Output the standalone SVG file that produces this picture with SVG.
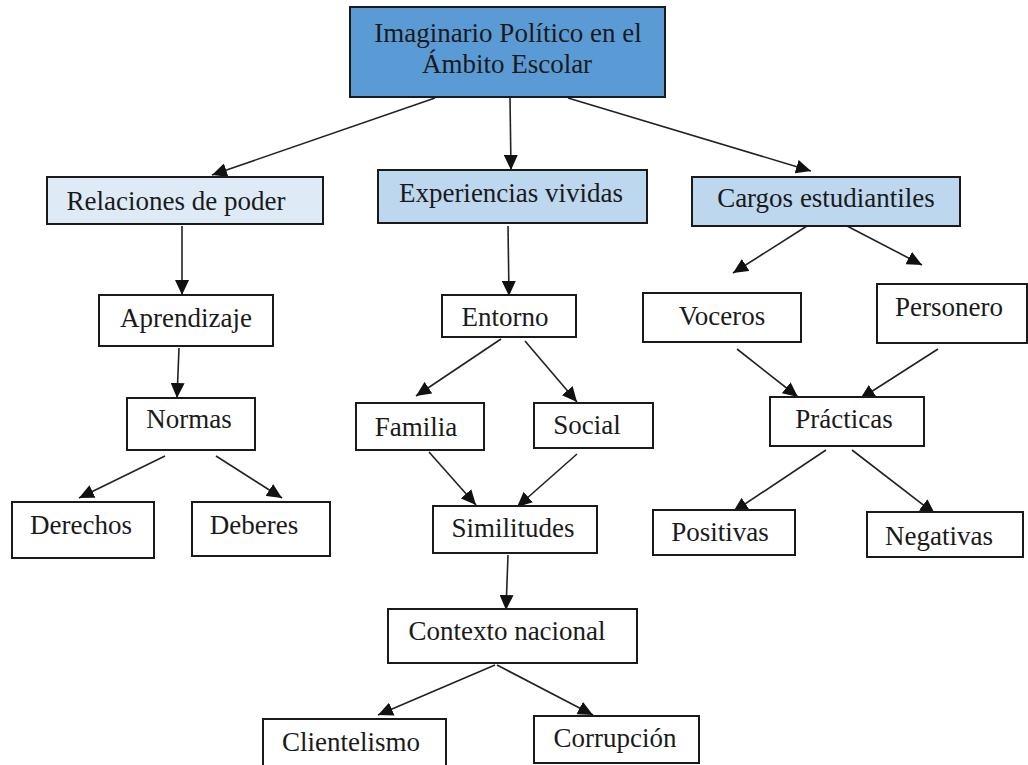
<svg xmlns="http://www.w3.org/2000/svg" width="1028" height="765" viewBox="0 0 1028 765">
<style>
  .box { fill: #ffffff; stroke: #1a1a1a; stroke-width: 2; }
  .top { fill: #5B9BD5; }
  .l1 { fill: #DEEBF7; }
  .l2 { fill: #BDD7EE; }
  text { font-family: "Liberation Serif", "Times New Roman", serif; font-size: 27px; fill: #1a1a1a; text-anchor: middle; }
  .conn line { stroke: #222; stroke-width: 1.6; marker-end: url(#arr); }
</style>
<defs>
  <marker id="arr" markerUnits="userSpaceOnUse" markerWidth="16" markerHeight="14" refX="15" refY="7" orient="auto">
    <path d="M0,0 L15,7 L0,14 z" fill="#111"/>
  </marker>
</defs>
<rect width="1028" height="765" fill="#ffffff"/>

<g id="connectors" class="conn">
  <line x1="435" y1="98" x2="212" y2="175"/>
  <line x1="510" y1="98" x2="511" y2="170"/>
  <line x1="568" y1="98" x2="811" y2="171"/>
  <line x1="182" y1="226" x2="182" y2="295"/>
  <line x1="179" y1="348" x2="177" y2="398"/>
  <line x1="165" y1="456" x2="79" y2="498"/>
  <line x1="216" y1="456" x2="282" y2="498"/>
  <line x1="508" y1="226" x2="509" y2="296"/>
  <line x1="501" y1="339" x2="416" y2="396"/>
  <line x1="525" y1="341" x2="577" y2="402"/>
  <line x1="429" y1="452" x2="476" y2="505"/>
  <line x1="577" y1="454" x2="517" y2="507"/>
  <line x1="508" y1="555" x2="506" y2="610"/>
  <line x1="495" y1="665" x2="378" y2="715"/>
  <line x1="497" y1="665" x2="593" y2="715"/>
  <line x1="807" y1="226" x2="733" y2="273"/>
  <line x1="847" y1="226" x2="922" y2="265"/>
  <line x1="737" y1="349" x2="798" y2="397"/>
  <line x1="938" y1="349" x2="860" y2="399"/>
  <line x1="826" y1="450" x2="733" y2="512"/>
  <line x1="852" y1="450" x2="935" y2="514"/>
</g>

<g id="n-imaginario">
  <rect class="box top" x="350" y="7" width="315" height="90"/>
  <text x="508" y="42">Imaginario Político en el</text>
  <text x="507" y="73">Ámbito Escolar</text>
</g>
<g id="n-relaciones">
  <rect class="box l1" x="47" y="177" width="276" height="47"/>
  <text x="176" y="210">Relaciones de poder</text>
</g>
<g id="n-experiencias">
  <rect class="box l2" x="378" y="170" width="269" height="53"/>
  <text x="511" y="202">Experiencias vividas</text>
</g>
<g id="n-cargos">
  <rect class="box l2" x="692" y="177" width="268" height="49"/>
  <text x="826" y="207">Cargos estudiantiles</text>
</g>
<g id="n-aprendizaje">
  <rect class="box" x="99" y="295" width="174" height="51"/>
  <text x="186" y="327">Aprendizaje</text>
</g>
<g id="n-normas">
  <rect class="box" x="127" y="398" width="128" height="52"/>
  <text x="189" y="428">Normas</text>
</g>
<g id="n-derechos">
  <rect class="box" x="12" y="502" width="142" height="56"/>
  <text x="81" y="534">Derechos</text>
</g>
<g id="n-deberes">
  <rect class="box" x="192" y="502" width="138" height="54"/>
  <text x="254" y="534">Deberes</text>
</g>
<g id="n-entorno">
  <rect class="box" x="442" y="295" width="134" height="42"/>
  <text x="505" y="326">Entorno</text>
</g>
<g id="n-familia">
  <rect class="box" x="356" y="403" width="128" height="47"/>
  <text x="416" y="436">Familia</text>
</g>
<g id="n-social">
  <rect class="box" x="534" y="403" width="119" height="45"/>
  <text x="587" y="434">Social</text>
</g>
<g id="n-similitudes">
  <rect class="box" x="433" y="506" width="164" height="47"/>
  <text x="513" y="537">Similitudes</text>
</g>
<g id="n-contexto">
  <rect class="box" x="388" y="609" width="249" height="54"/>
  <text x="507" y="640">Contexto nacional</text>
</g>
<g id="n-clientelismo">
  <rect class="box" x="263" y="719" width="183" height="60"/>
  <text x="351" y="751">Clientelismo</text>
</g>
<g id="n-corrupcion">
  <rect class="box" x="534" y="716" width="165" height="47"/>
  <text x="615" y="747">Corrupción</text>
</g>
<g id="n-voceros">
  <rect class="box" x="643" y="293" width="158" height="49"/>
  <text x="722" y="325">Voceros</text>
</g>
<g id="n-personero">
  <rect class="box" x="877" y="284" width="150" height="59"/>
  <text x="949" y="316">Personero</text>
</g>
<g id="n-practicas">
  <rect class="box" x="770" y="397" width="154" height="49"/>
  <text x="844" y="428">Prácticas</text>
</g>
<g id="n-positivas">
  <rect class="box" x="653" y="510" width="142" height="45"/>
  <text x="720" y="541">Positivas</text>
</g>
<g id="n-negativas">
  <rect class="box" x="867" y="512" width="156" height="45"/>
  <text x="939" y="545">Negativas</text>
</g>
</svg>
